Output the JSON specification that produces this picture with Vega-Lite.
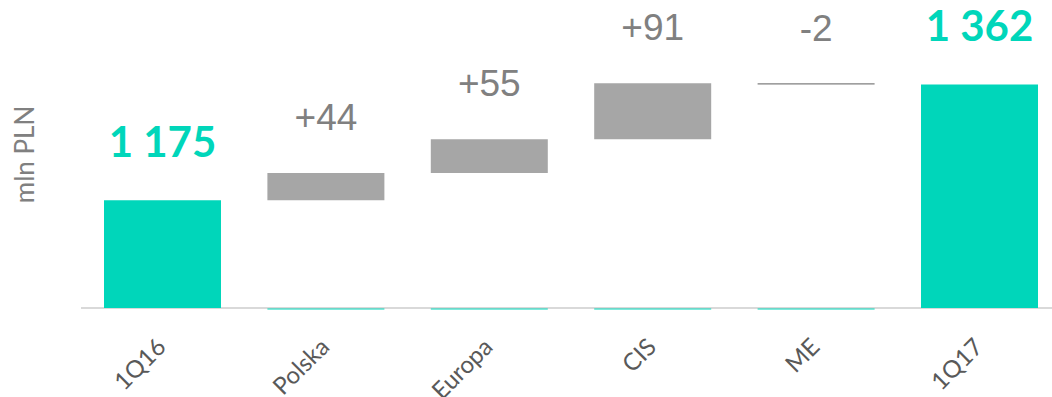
{
  "$schema": "https://vega.github.io/schema/vega-lite/v6.json",
  "autosize": {"type": "none"},
  "padding": {"left": 81, "top": 0, "right": 0, "bottom": 89},
  "width": 971,
  "height": 308,
  "background": "white",
  "config": {"view": {"stroke": null}},
  "data": {"values": [
    {"cat": "1Q16", "start": 0, "end": 1175, "label": "1 175", "kind": "total"},
    {"cat": "Polska", "start": 1175, "end": 1219, "label": "+44", "kind": "delta"},
    {"cat": "Europa", "start": 1219, "end": 1274, "label": "+55", "kind": "delta"},
    {"cat": "CIS", "start": 1274, "end": 1365, "label": "+91", "kind": "delta"},
    {"cat": "ME", "start": 1365, "end": 1363, "label": "-2", "kind": "neg"},
    {"cat": "1Q17", "start": 0, "end": 1363, "label": "1 362", "kind": "total"}
  ]},
  "encoding": {
    "x": {
      "field": "cat", "type": "nominal",
      "sort": ["1Q16", "Polska", "Europa", "CIS", "ME", "1Q17"],
      "scale": {"domain": ["1Q16", "Polska", "Europa", "CIS", "ME", "1Q17"], "range": [23, 957], "paddingInner": 0.284, "paddingOuter": 0},
      "axis": {
        "title": null, "domain": false, "ticks": false, "grid": false,
        "labelAngle": -45, "labelAlign": "right", "labelBaseline": "middle",
        "labelFont": "Lato", "labelFontSize": 24,
        "labelColor": "#595959", "labelPadding": 35
      }
    }
  },
  "layer": [
    {
      "mark": {"type": "rule", "color": "#d9d9d9", "strokeWidth": 1.5},
      "encoding": {"x": null, "y": {"datum": 1000, "type": "quantitative", "scale": {"domain": [1000, 1500], "zero": false}}}
    },
    {
      "transform": [{"filter": "datum.kind != 'total'"}],
      "mark": {"type": "bar", "color": "#00d6ba"},
      "encoding": {
        "y": {"datum": 999.2, "type": "quantitative"},
        "y2": {"datum": 997.6}
      }
    },
    {
      "mark": {"type": "bar", "clip": true},
      "encoding": {
        "y": {"field": "start", "type": "quantitative", "scale": {"domain": [1000, 1500], "zero": false},
          "axis": {"title": "mln PLN", "labels": false, "ticks": false, "domain": false, "grid": false,
            "titleFont": "Lato", "titleFontSize": 26, "titleFontWeight": "normal", "titleColor": "#808080", "titlePadding": 43}},
        "y2": {"field": "end"},
        "color": {"field": "kind", "type": "nominal", "legend": null,
          "scale": {"domain": ["total", "delta", "neg"], "range": ["#00d6ba", "#a6a6a6", "#7f7f7f"]}}
      }
    },
    {
      "transform": [{"filter": "datum.kind == 'total'"}],
      "mark": {"type": "text", "font": "Lato", "fontWeight": "bold", "fontSize": 42, "color": "#00d6ba", "baseline": "alphabetic", "dy": -43},
      "encoding": {
        "y": {"field": "end", "type": "quantitative"},
        "text": {"field": "label"}
      }
    },
    {
      "transform": [{"filter": "datum.kind != 'total'"}],
      "mark": {"type": "text", "font": "Liberation Sans", "fontSize": 37, "color": "#808080", "baseline": "alphabetic", "dy": -43},
      "encoding": {
        "y": {"field": "end", "type": "quantitative"},
        "text": {"field": "label"}
      }
    }
  ]
}
